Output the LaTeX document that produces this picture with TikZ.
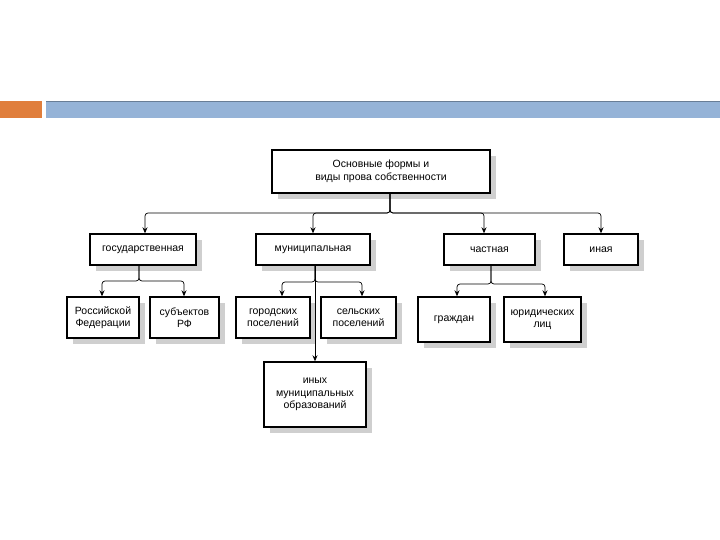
\documentclass[tikz,border=0pt]{standalone}
\usepackage{fontspec}
\setmainfont{Liberation Sans}
\usetikzlibrary{arrows.meta,shadows}
\definecolor{barblue}{HTML}{95B3D7}
\definecolor{barorange}{HTML}{E07E3C}
\tikzset{
  box/.style={draw=black, line width=1.4pt, fill=white, align=center,
    font=\fontsize{10.5}{12.5}\selectfont, inner sep=1pt,
    drop shadow={shadow xshift=6pt, shadow yshift=-6pt, fill=gray!38, opacity=1}},
  conn/.style={line width=0.7pt, rounded corners=3pt},
  arr/.style={conn, -{Stealth[length=6pt,width=5pt]}}
}
\begin{document}
\begin{tikzpicture}[x=1pt,y=-1pt]
\useasboundingbox (0,0) rectangle (720,540);
% header bars
\fill[barorange] (0,101) rectangle (42,118);
\fill[barblue] (46,101) rectangle (720,118);
\draw[barblue!70!black, line width=0.5pt] (46,101) -- (720,101);
% nodes
\node[box, minimum width=218pt, minimum height=43pt] (top) at (381,171.5) {Основные формы и\\виды прова собственности};
\node[box, minimum width=106pt, minimum height=31pt] (gos) at (143,249.5) {государственная};
\node[box, minimum width=114pt, minimum height=31pt] (mun) at (313,249.5) {муниципальная};
\node[box, minimum width=91pt, minimum height=31pt] (chast) at (489.5,249.5) {частная};
\node[box, minimum width=74pt, minimum height=31pt] (ina) at (601,249.5) {иная};
\node[box, minimum width=72pt, minimum height=41pt] (rf) at (103,317.5) {Российской\\Федерации};
\node[box, minimum width=69pt, minimum height=41pt] (subj) at (184.5,317.5) {субъектов\\РФ};
\node[box, minimum width=74pt, minimum height=41pt] (gor) at (273,317.5) {городских\\поселений};
\node[box, minimum width=75pt, minimum height=41pt] (sel) at (358.5,317.5) {сельских\\поселений};
\node[box, minimum width=72pt, minimum height=45pt] (grazh) at (454,319.5) {граждан};
\node[box, minimum width=77pt, minimum height=45pt] (yur) at (542.5,319.5) {юридических\\лиц};
\node[box, minimum width=102pt, minimum height=65pt] (inyh) at (315,394.5) {иных\\муниципальных\\образований};
% level 1 connectors
\coordinate (s0) at (390,193);
\coordinate (b0) at (390,213);
\draw[arr] (s0) -- (b0) -| (gos.north -| 145,0);
\draw[arr] (s0) -- (b0) -| (mun.north);
\draw[arr] (s0) -- (b0) -| (chast.north -| 484,0);
\draw[arr] (s0) -- (b0) -| (ina.north);
% state
\coordinate (gs) at (139,265);
\coordinate (gb) at (139,281);
\draw[arr] (gs) -- (gb) -| (rf.north -| 102,0);
\draw[arr] (gs) -- (gb) -| (subj.north -| 184,0);
% municipal
\coordinate (ms) at (315,265);
\coordinate (mb) at (315,282);
\draw[arr] (ms) -- (mb) -| (gor.north -| 282,0);
\draw[arr] (ms) -- (mb) -| (sel.north -| 362,0);
\draw[arr] (ms) -- (inyh.north -| 315,0);
% private
\coordinate (cs) at (491,265);
\coordinate (cb) at (491,284);
\draw[arr] (cs) -- (cb) -| (grazh.north -| 457,0);
\draw[arr] (cs) -- (cb) -| (yur.north -| 545,0);
\end{tikzpicture}
\end{document}
